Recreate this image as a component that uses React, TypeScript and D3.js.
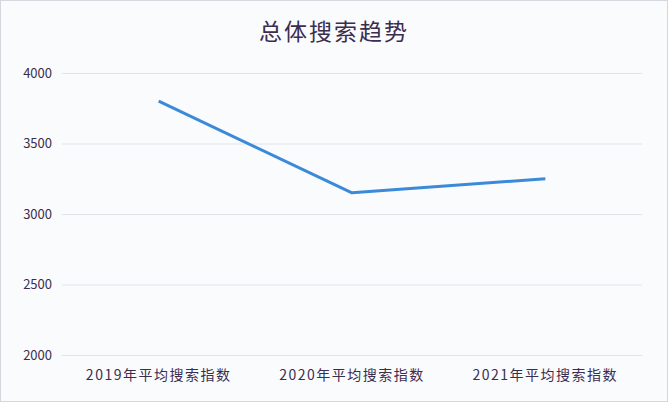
import { useEffect, useRef } from 'react';
import * as d3 from 'd3';

const categories = ['2019年平均搜索指数', '2020年平均搜索指数', '2021年平均搜索指数'];
const values = [3800, 3150, 3250];
const yTicks = [2000, 2500, 3000, 3500, 4000];
const title = '总体搜索趋势';

const width = 668;
const height = 402;

export default function App() {
  const svgRef = useRef<SVGSVGElement>(null);

  useEffect(() => {
    if (!svgRef.current) return;
    const svg = d3.select(svgRef.current);
    svg.selectAll('*').remove();

    const margin = { top: 73, right: 26, bottom: 47, left: 62 };
    const chartWidth = width - margin.left - margin.right;
    const chartHeight = height - margin.top - margin.bottom;
    const font = "'Noto Sans CJK SC', 'Noto Sans', sans-serif";
    const textColor = '#3b2d4f';

    svg
      .append('rect')
      .attr('x', 0.5)
      .attr('y', 0.5)
      .attr('width', width - 1)
      .attr('height', height - 1)
      .attr('fill', '#fafbfd')
      .attr('stroke', '#d3d8de');

    svg
      .append('text')
      .attr('x', width / 2)
      .attr('y', 40)
      .attr('text-anchor', 'middle')
      .attr('fill', textColor)
      .attr('font-size', 23)
      .attr('letter-spacing', 2)
      .attr('font-family', font)
      .text(title);

    const chart = svg
      .append('g')
      .attr('transform', `translate(${margin.left},${margin.top})`);

    const x = d3.scaleBand<string>().domain(categories).range([0, chartWidth]);
    const y = d3.scaleLinear().domain([2000, 4000]).range([chartHeight, 0]);

    chart
      .append('g')
      .call(
        d3
          .axisLeft(y)
          .tickValues(yTicks)
          .tickSize(-chartWidth)
          .tickFormat(() => '')
      )
      .call((group) => {
        group.select('.domain').remove();
        group.selectAll('.tick line').attr('stroke', '#dfe3ea').attr('stroke-width', 1);
      });

    chart
      .append('g')
      .call(d3.axisLeft(y).tickValues(yTicks).tickSize(0).tickPadding(10).tickFormat(d3.format('d')))
      .call((group) => {
        group.select('.domain').remove();
        group
          .selectAll('.tick text')
          .attr('fill', textColor)
          .attr('font-size', 13)
          .attr('font-family', font);
      });

    chart
      .append('g')
      .attr('transform', `translate(0,${chartHeight})`)
      .call(d3.axisBottom(x).tickSize(0).tickPadding(15))
      .call((group) => {
        group.select('.domain').remove();
        group
          .selectAll('.tick text')
          .attr('fill', textColor)
          .attr('font-size', 14)
          .attr('letter-spacing', 1.5)
          .attr('font-family', font);
      });

    const line = d3
      .line<number>()
      .x((_, i) => (x(categories[i]) ?? 0) + x.bandwidth() / 2)
      .y((d) => y(d));

    chart
      .append('path')
      .datum(values)
      .attr('fill', 'none')
      .attr('stroke', '#3b8ad9')
      .attr('stroke-width', 3)
      .attr('stroke-linejoin', 'round')
      .attr('d', line);
  }, []);

  return (
    <div style={{ position: 'absolute', left: 0, top: 0 }}>
      <svg ref={svgRef} width={width} height={height} />
    </div>
  );
}
